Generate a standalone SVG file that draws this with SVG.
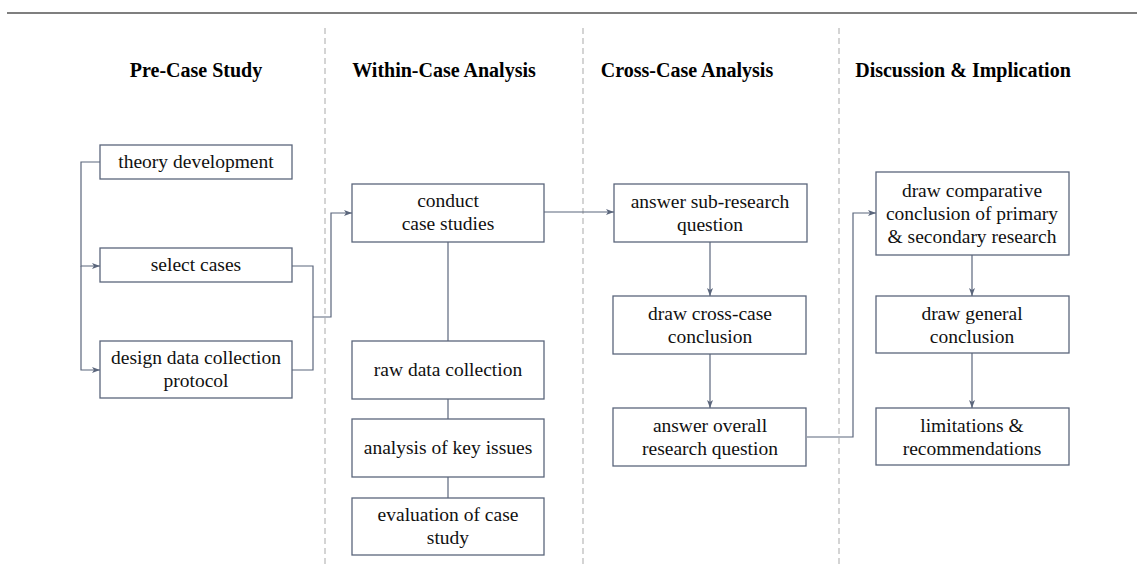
<svg xmlns="http://www.w3.org/2000/svg" width="1137" height="565" viewBox="0 0 1137 565">
  <style>
    .box { fill: #ffffff; stroke: #5b667c; stroke-width: 1.3; }
    .lbl { font-family: "Liberation Serif", "Times New Roman", serif; font-size: 19.5px; fill: #111111; text-anchor: middle; }
    .hdr { font-family: "Liberation Serif", "Times New Roman", serif; font-size: 20px; font-weight: bold; fill: #000000; text-anchor: middle; }
    .sep { stroke: #b8b8b8; stroke-width: 1.2; stroke-dasharray: 6 4; fill: none; }
    .wire { stroke: #5b667c; stroke-width: 1.2; fill: none; }
  </style>
  <defs>
    <marker id="arr" viewBox="0 0 8 8" refX="8" refY="4" markerWidth="8" markerHeight="8" markerUnits="userSpaceOnUse" orient="auto">
      <path d="M0,1 L8,4 L0,7 L2,4 Z" fill="#5b667c"/>
    </marker>
  </defs>
  <rect width="1137" height="565" fill="#ffffff"/>

  <!-- top rule -->
  <line x1="7" y1="13" x2="1137" y2="13" stroke="#7f7f7f" stroke-width="2"/>

  <!-- phase separators -->
  <g id="separators">
    <line class="sep" x1="325" y1="28" x2="325" y2="565"/>
    <line class="sep" x1="583" y1="28" x2="583" y2="565"/>
    <line class="sep" x1="839" y1="28" x2="839" y2="565"/>
  </g>

  <!-- phase headings -->
  <g id="headings">
    <text class="hdr" x="196" y="77">Pre-Case Study</text>
    <text class="hdr" x="444" y="77">Within-Case Analysis</text>
    <text class="hdr" x="687" y="77">Cross-Case Analysis</text>
    <text class="hdr" x="963" y="77">Discussion &amp; Implication</text>
  </g>

  <!-- connectors -->
  <g id="connectors">
    <path class="wire" d="M100,162 H81 V266 H100" marker-end="url(#arr)"/>
    <path class="wire" d="M81,266 V370 H100" marker-end="url(#arr)"/>
    <path class="wire" d="M292,266 H313 V370 H292"/>
    <path class="wire" d="M313,317 H331 V213 H352" marker-end="url(#arr)"/>
    <path class="wire" d="M544,212 H614" marker-end="url(#arr)"/>
    <path class="wire" d="M448,242 V341"/>
    <path class="wire" d="M448,399 V419"/>
    <path class="wire" d="M448,477 V498"/>
    <path class="wire" d="M710,242 V296" marker-end="url(#arr)"/>
    <path class="wire" d="M710,354 V408" marker-end="url(#arr)"/>
    <path class="wire" d="M807,437 H853 V213 H876" marker-end="url(#arr)"/>
    <path class="wire" d="M972,255 V296" marker-end="url(#arr)"/>
    <path class="wire" d="M972,353 V408" marker-end="url(#arr)"/>
  </g>

  <!-- Pre-Case Study -->
  <g id="theory-development">
    <rect class="box" x="100" y="145" width="192" height="34"/>
    <text class="lbl" x="196" y="168">theory development</text>
  </g>
  <g id="select-cases">
    <rect class="box" x="100" y="248" width="192" height="34"/>
    <text class="lbl" x="196" y="271">select cases</text>
  </g>
  <g id="design-protocol">
    <rect class="box" x="100" y="341" width="192" height="57"/>
    <text class="lbl" x="196" y="364">design data collection</text>
    <text class="lbl" x="196" y="387">protocol</text>
  </g>

  <!-- Within-Case Analysis -->
  <g id="conduct-case-studies">
    <rect class="box" x="352" y="184" width="192" height="58"/>
    <text class="lbl" x="448" y="207">conduct</text>
    <text class="lbl" x="448" y="230">case studies</text>
  </g>
  <g id="raw-data-collection">
    <rect class="box" x="352" y="341" width="192" height="58"/>
    <text class="lbl" x="448" y="376">raw data collection</text>
  </g>
  <g id="analysis-key-issues">
    <rect class="box" x="352" y="419" width="192" height="58"/>
    <text class="lbl" x="448" y="454">analysis of key issues</text>
  </g>
  <g id="evaluation-case-study">
    <rect class="box" x="352" y="498" width="192" height="57"/>
    <text class="lbl" x="448" y="521">evaluation of case</text>
    <text class="lbl" x="448" y="544">study</text>
  </g>

  <!-- Cross-Case Analysis -->
  <g id="answer-sub-question">
    <rect class="box" x="614" y="184" width="193" height="58"/>
    <text class="lbl" x="710" y="208">answer sub-research</text>
    <text class="lbl" x="710" y="231">question</text>
  </g>
  <g id="cross-case-conclusion">
    <rect class="box" x="613" y="296" width="193" height="58"/>
    <text class="lbl" x="710" y="320">draw cross-case</text>
    <text class="lbl" x="710" y="343">conclusion</text>
  </g>
  <g id="answer-overall-question">
    <rect class="box" x="613" y="408" width="193" height="58"/>
    <text class="lbl" x="710" y="432">answer overall</text>
    <text class="lbl" x="710" y="455">research question</text>
  </g>

  <!-- Discussion & Implication -->
  <g id="comparative-conclusion">
    <rect class="box" x="876" y="172" width="193" height="83"/>
    <text class="lbl" x="972" y="197">draw comparative</text>
    <text class="lbl" x="972" y="220">conclusion of primary</text>
    <text class="lbl" x="972" y="243">&amp; secondary research</text>
  </g>
  <g id="general-conclusion">
    <rect class="box" x="876" y="296" width="193" height="57"/>
    <text class="lbl" x="972" y="320">draw general</text>
    <text class="lbl" x="972" y="343">conclusion</text>
  </g>
  <g id="limitations">
    <rect class="box" x="876" y="408" width="193" height="57"/>
    <text class="lbl" x="972" y="432">limitations &amp;</text>
    <text class="lbl" x="972" y="455">recommendations</text>
  </g>
</svg>
